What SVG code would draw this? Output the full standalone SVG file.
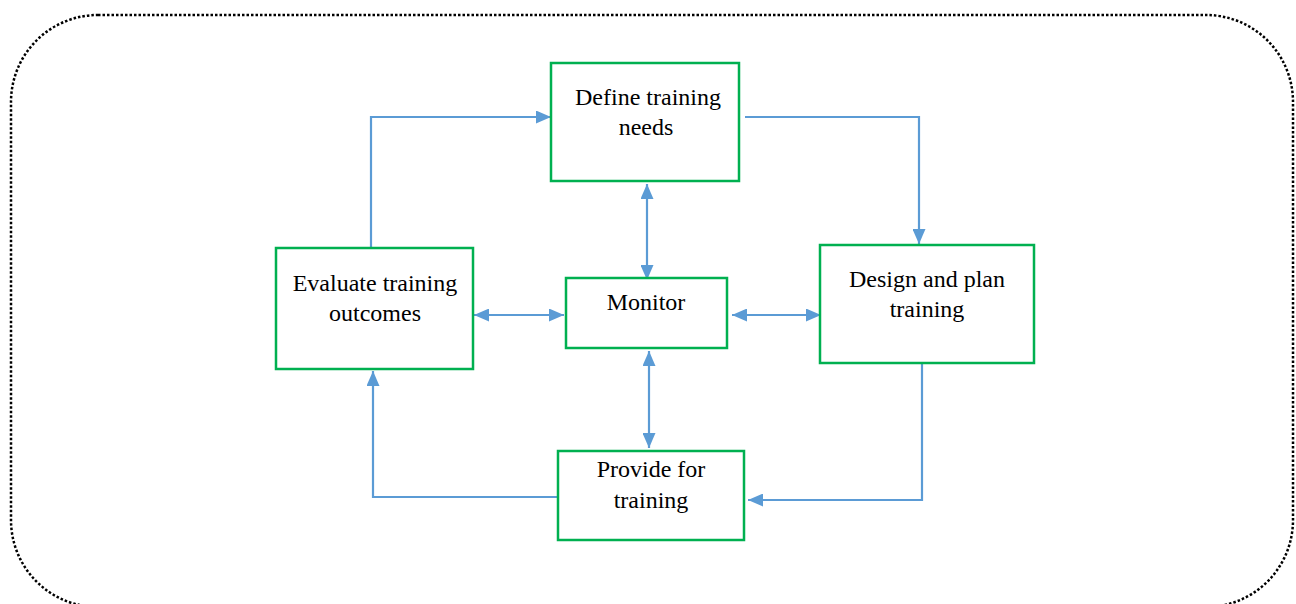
<svg xmlns="http://www.w3.org/2000/svg" width="1296" height="604" viewBox="0 0 1296 604">
  <style>
    .frame { fill: none; stroke: #000; stroke-width: 2.5; stroke-dasharray: 2.5 2; }
    .box { fill: #fff; stroke: #00B050; stroke-width: 2.5; }
    .lbl { font-family: "Liberation Serif", "Times New Roman", serif; font-size: 24px; fill: #000; text-anchor: middle; }
    .link { fill: none; stroke: #5B9BD5; stroke-width: 2.2; }
  </style>
  <defs>
    <marker id="head" viewBox="0 0 15 13" refX="15" refY="6.5" markerWidth="15" markerHeight="13" markerUnits="userSpaceOnUse" orient="auto-start-reverse">
      <path d="M0,0 L15,6.5 L0,13 Z" fill="#5B9BD5"/>
    </marker>
  </defs>
  <rect width="1296" height="604" fill="#fff"/>

  <!-- outer dotted frame -->
  <rect class="frame" x="11" y="15" width="1282" height="592" rx="87" ry="87"/>

  <!-- connectors -->
  <g id="connectors">
    <polyline class="link" points="371,248 371,117 551,117" marker-end="url(#head)"/>
    <polyline class="link" points="745,117 919,117 919,244" marker-end="url(#head)"/>
    <polyline class="link" points="922,363 922,500 748,500" marker-end="url(#head)"/>
    <polyline class="link" points="558,497 373,497 373,371" marker-end="url(#head)"/>
    <line class="link" x1="647" y1="184" x2="647" y2="280" marker-start="url(#head)" marker-end="url(#head)"/>
    <line class="link" x1="649" y1="351" x2="649" y2="448" marker-start="url(#head)" marker-end="url(#head)"/>
    <line class="link" x1="474" y1="315" x2="564" y2="315" marker-start="url(#head)" marker-end="url(#head)"/>
    <line class="link" x1="732" y1="315" x2="821" y2="315" marker-start="url(#head)" marker-end="url(#head)"/>
  </g>

  <g id="define">
    <rect class="box" x="551" y="63" width="188" height="118"/>
    <text class="lbl" x="648" y="105">Define training</text>
    <text class="lbl" x="646" y="135">needs</text>
  </g>

  <g id="evaluate">
    <rect class="box" x="276" y="248" width="197" height="121"/>
    <text class="lbl" x="375" y="291">Evaluate training</text>
    <text class="lbl" x="375" y="321">outcomes</text>
  </g>

  <g id="monitor">
    <rect class="box" x="566" y="278" width="161" height="70"/>
    <text class="lbl" x="646" y="310">Monitor</text>
  </g>

  <g id="design">
    <rect class="box" x="820" y="245" width="214" height="118"/>
    <text class="lbl" x="927" y="287">Design and plan</text>
    <text class="lbl" x="927" y="317">training</text>
  </g>

  <g id="provide">
    <rect class="box" x="558" y="451" width="186" height="89"/>
    <text class="lbl" x="651" y="477">Provide for</text>
    <text class="lbl" x="651" y="508">training</text>
  </g>
</svg>
